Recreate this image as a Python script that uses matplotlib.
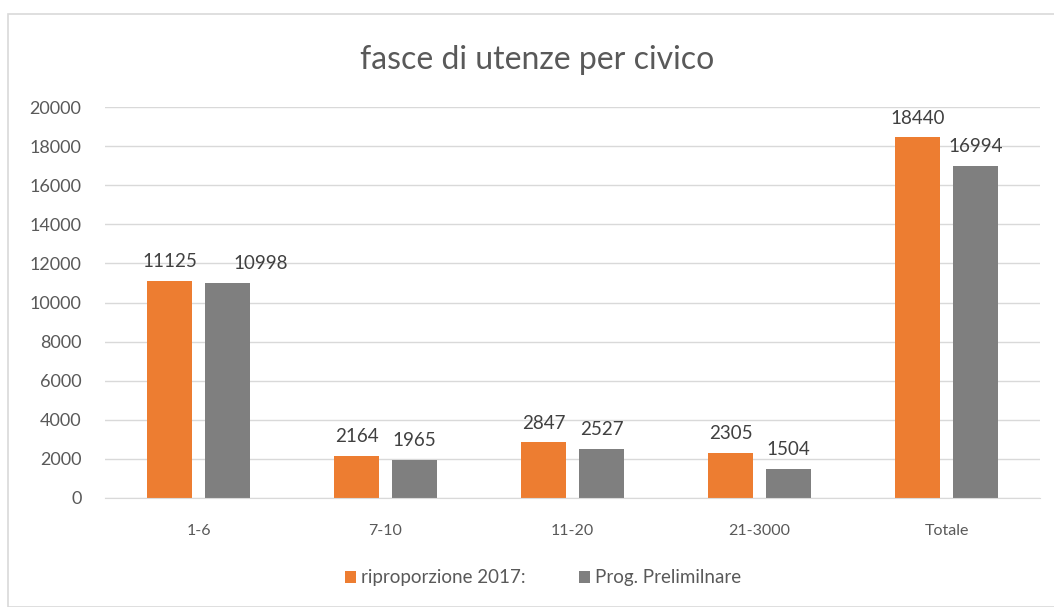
import numpy as np
import matplotlib.pyplot as plt
from matplotlib.patches import Rectangle

categories = ["1-6", "7-10", "11-20", "21-3000", "Totale"]
riproporzione = [11125, 2164, 2847, 2305, 18440]
preliminare = [10998, 1965, 2527, 1504, 16994]
yticks = [0, 2000, 4000, 6000, 8000, 10000, 12000, 14000, 16000, 18000, 20000]

plt.rcParams['font.family'] = ['Lato', 'DejaVu Sans']

fig = plt.figure(figsize=(10.54, 6.07), dpi=100)
fig.patch.set_facecolor('white')
# chart border
fig.patches.append(Rectangle((8/1054, 0.0), 1.2, 1 - 14/607, transform=fig.transFigure,
                             fill=False, edgecolor='#d9d9d9', linewidth=1.2))

ax = fig.add_axes([105/1054, 1 - 498/607, (1040-105)/1054, (498-107)/607])

x = np.arange(len(categories))
w = 0.24
b1 = ax.bar(x - 0.155, riproporzione, w, color='#ed7d31', label='riproporzione 2017:')
b2 = ax.bar(x + 0.155, preliminare, w, color='#7f7f7f', label='Prog. Prelimilnare')

for k, bars in enumerate((b1, b2)):
    for i, r in enumerate(bars):
        dx = 0.18 if (k == 1 and i == 0) else 0  # label dragged aside in the original
        ax.text(r.get_x() + r.get_width()/2 + dx, r.get_height() + 550, str(int(r.get_height())),
                ha='center', va='bottom', fontsize=13.5, color='#404040')

ax.set_xlim(-0.5, len(categories) - 0.5)
ax.set_ylim(0, 20000)
ax.set_yticks(yticks)
ax.set_xticks(x)
ax.set_xticklabels(categories)
ax.tick_params(axis='both', length=0, colors='#595959')
ax.tick_params(axis='x', pad=19, labelsize=11.5)
ax.tick_params(axis='y', pad=17, labelsize=13)
ax.grid(axis='y', color='#d9d9d9', linewidth=1)
ax.set_axisbelow(True)
for s in ['top', 'right', 'left']:
    ax.spines[s].set_visible(False)
ax.spines['bottom'].set_color('#d9d9d9')

fig.text(537/1054, 1 - 60/607, "fasce di utenze per civico", ha='center', va='center',
         fontsize=23, color='#595959')

fig.legend(loc='center', bbox_to_anchor=(543/1054, 1 - 578/607), ncol=2, frameon=False,
           fontsize=13.5, labelcolor='#595959', handlelength=0.6, handleheight=0.6,
           handletextpad=0.3, columnspacing=2.8)

fig.savefig('out.png', dpi=100)
